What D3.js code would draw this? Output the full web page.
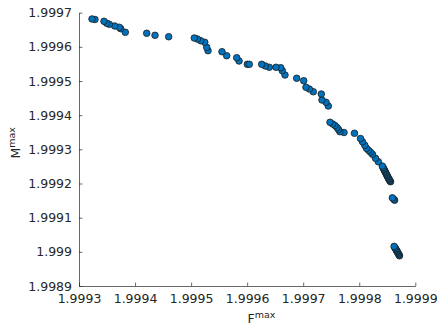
<!DOCTYPE html>
<html>
<head>
<meta charset="utf-8">
<script src="https://cdn.jsdelivr.net/npm/d3@7"></script>
<style>
  html, body { margin: 0; padding: 0; background: #fff; }
  svg text { font-family: "DejaVu Sans", sans-serif; fill: #262626; }
</style>
</head>
<body>
<div id="chart"></div>
<script>
// Pareto front: F^max vs M^max
const fMax = [
  1.9993232, 1.9993285, 1.9993446, 1.9993494, 1.9993541, 1.9993637, 1.9993719, 1.9993744,
  1.9993826, 1.9994208, 1.9994356, 1.9994600, 1.9995057, 1.9995111, 1.9995171, 1.9995243,
  1.9995278, 1.9995302, 1.9995551, 1.9995635, 1.9995814, 1.9995855, 1.9996003, 1.9996038,
  1.9996260, 1.9996324, 1.9996395, 1.9996515, 1.9996599, 1.9996627, 1.9996675, 1.9996884,
  1.9997009, 1.9997050, 1.9997109, 1.9997180, 1.9997323, 1.9997335, 1.9997407, 1.9997448,
  1.9997478, 1.9997526, 1.9997567, 1.9997603, 1.9997630, 1.9997656, 1.9997728, 1.9997915,
  1.9998022, 1.9998058, 1.9998099, 1.9998129, 1.9998165, 1.9998201, 1.9998236, 1.9998290,
  1.9998340, 1.9998411,
  // dense upper tail
  1.9998424, 1.9998434, 1.9998443, 1.9998452, 1.9998461, 1.9998470, 1.9998479, 1.9998488,
  1.9998497, 1.9998506, 1.9998515, 1.9998524, 1.9998533, 1.9998541, 1.9998550, 1.9998558,
  // middle group
  1.9998631, 1.9998613, 1.9998591,
  // dense lower tail
  1.9998718, 1.9998711, 1.9998702, 1.9998693, 1.9998684, 1.9998675, 1.9998666, 1.9998657,
  1.9998647, 1.9998634, 1.9998622
];
const mMax = [
  1.9996816, 1.9996801, 1.9996748, 1.9996690, 1.9996660, 1.9996611, 1.9996573, 1.9996532,
  1.9996426, 1.9996397, 1.9996338, 1.9996297, 1.9996259, 1.9996230, 1.9996180, 1.9996134,
  1.9995987, 1.9995888, 1.9995858, 1.9995741, 1.9995683, 1.9995586, 1.9995489, 1.9995489,
  1.9995489, 1.9995440, 1.9995402, 1.9995402, 1.9995390, 1.9995302, 1.9995176, 1.9995080,
  1.9995009, 1.9994816, 1.9994766, 1.9994687, 1.9994620, 1.9994444, 1.9994377, 1.9994269,
  1.9993792, 1.9993742, 1.9993698, 1.9993639, 1.9993581, 1.9993516, 1.9993493, 1.9993470,
  1.9993317, 1.9993221, 1.9993118, 1.9993030, 1.9992972, 1.9992916, 1.9992855, 1.9992738,
  1.9992638, 1.9992512,
  1.9992468, 1.9992436, 1.9992407, 1.9992378, 1.9992348, 1.9992319, 1.9992290, 1.9992261,
  1.9992231, 1.9992202, 1.9992173, 1.9992146, 1.9992120, 1.9992097, 1.9992073, 1.9992053,
  1.9991511, 1.9991543, 1.9991581,
  1.9989884, 1.9989907, 1.9989933, 1.9989960, 1.9989986, 1.9990012, 1.9990039, 1.9990065,
  1.9990094, 1.9990127, 1.9990159
];
const xTicks = [1.9993, 1.9994, 1.9995, 1.9996, 1.9997, 1.9998, 1.9999];
const yTicks = [1.9989, 1.999, 1.9991, 1.9992, 1.9993, 1.9994, 1.9995, 1.9996, 1.9997];

const width = 437, height = 327;
const plotLeft = 79, plotRight = 415.3, plotTop = 12.7, plotBottom = 286;
const tickLen = 3.4;
const axisColor = "#262626";

const svg = d3.select("#chart").append("svg")
  .attr("width", width)
  .attr("height", height);

const x = d3.scaleLinear().domain([1.9993, 1.9999]).range([plotLeft, plotRight]);
const y = d3.scaleLinear().domain([1.9989, 1.9997]).range([plotBottom, plotTop]);

// points, bottom ones drawn first so the upper markers sit on top
const points = d3.sort(fMax.map((f, i) => ({f: f, m: mMax[i]})), d => d.m);

svg.append("g")
  .selectAll("circle")
  .data(points)
  .join("circle")
  .attr("cx", d => x(d.f))
  .attr("cy", d => y(d.m))
  .attr("r", 3.3)
  .attr("fill", "#0072BD")
  .attr("stroke", "#1c1c1c")
  .attr("stroke-width", 0.8);

// x axis (ticks inward)
const xAxis = svg.append("g")
  .attr("transform", `translate(0,${plotBottom})`)
  .call(d3.axisBottom(x).tickValues(xTicks).tickSizeInner(-tickLen).tickSizeOuter(0)
    .tickPadding(6).tickFormat(d3.format(".4f")));

// y axis (ticks inward)
const yAxis = svg.append("g")
  .attr("transform", `translate(${plotLeft},0)`)
  .call(d3.axisLeft(y).tickValues(yTicks).tickSizeInner(-tickLen).tickSizeOuter(0)
    .tickPadding(7).tickFormat(d => d3.format(".4f")(d).replace(/0+$/, "")));

[xAxis, yAxis].forEach(g => {
  g.select(".domain").attr("stroke", axisColor).attr("stroke-width", 0.7);
  g.selectAll(".tick line").attr("stroke", axisColor).attr("stroke-width", 0.7);
  g.selectAll(".tick text")
    .attr("font-family", "DejaVu Sans, sans-serif")
    .attr("font-size", 12.5)
    .attr("fill", axisColor);
});
xAxis.selectAll(".tick text").attr("dy", "0.85em");

// axis labels with superscript
const xLabel = svg.append("text")
  .attr("x", 247.5)
  .attr("y", 323)
  .attr("font-size", 12.5);
xLabel.append("tspan").text("F");
xLabel.append("tspan").attr("font-size", 9.5).attr("dy", -5).text("max");

const yLabel = svg.append("text")
  .attr("transform", "translate(19.5,158.5) rotate(-90)")
  .attr("font-size", 12.5);
yLabel.append("tspan").text("M");
yLabel.append("tspan").attr("font-size", 9.5).attr("dy", -5).text("max");
</script>
</body>
</html>
